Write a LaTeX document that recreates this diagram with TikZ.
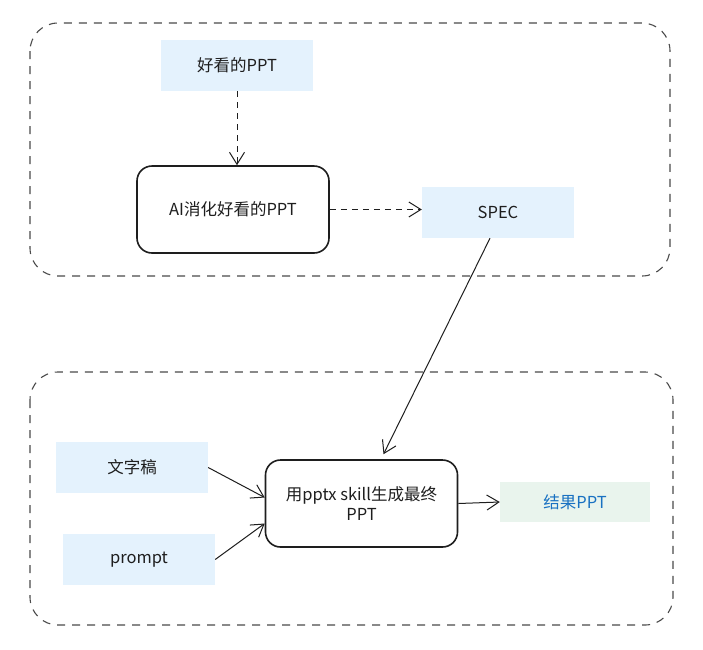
\documentclass[tikz,border=0pt]{standalone}
\usepackage{fontspec}
\setmainfont{Noto Sans CJK SC}
\usetikzlibrary{arrows.meta}
\definecolor{lblue}{RGB}{228,242,253}
\definecolor{lgreen}{RGB}{233,244,237}
\definecolor{tblue}{RGB}{25,113,194}
\definecolor{ink}{RGB}{30,30,30}
\tikzset{
  lbl/.style={font=\fontsize{16.5}{20}\selectfont},
  container/.style={draw=ink!80, line width=1.1pt, dash pattern=on 8pt off 7pt, rounded corners=28pt},
  bluebox/.style={lbl, fill=lblue, draw=none, minimum width=152pt, minimum height=51pt, inner sep=0pt, text=ink},
  greenbox/.style={lbl, fill=lgreen, draw=none, minimum width=150pt, minimum height=40pt, inner sep=0pt, text=tblue},
  procbox/.style={lbl, draw=ink, line width=1.6pt, rounded corners=15pt, minimum width=192pt, minimum height=87pt, inner sep=2pt, align=center, text=ink},
  conn/.style={draw=ink, line width=1pt, -{Straight Barb[length=12pt,width=15pt,line width=1pt]}},
  dconn/.style={conn, dash pattern=on 6pt off 5pt},
}
\begin{document}
\begin{tikzpicture}[x=1pt,y=-1pt]
\useasboundingbox[fill=white] (0,0) rectangle (703,649);
\draw[container] (30,23) rectangle (670,276);
\draw[container] (30,372) rectangle (673,625);
\node[bluebox] (good) at (237,65.5) {好看的PPT};
\node[procbox] (ai) at (233,209.5) {AI消化好看的PPT};
\node[bluebox] (spec) at (498,212.5) {SPEC};
\node[bluebox] (draft) at (132,467.5) {文字稿};
\node[bluebox] (prompt) at (139,559.5) {prompt};
\node[procbox] (gen) at (361.5,503.5) {用pptx skill生成最终\\PPT};
\node[greenbox] (result) at (575,502) {结果PPT};
\draw[dconn] (good.south) -- (ai.north -| good.south);
\draw[dconn] (ai.east) -- (spec.west |- ai.east);
\draw[conn] ([xshift=-8pt]spec.south) -- ([xshift=22pt,yshift=5pt]gen.north);
\draw[conn] (draft.east) -- ([yshift=6pt]gen.west);
\draw[conn] (prompt.east) -- ([yshift=-20pt]gen.west);
\draw[conn] (gen.east) -- (result.west);
\end{tikzpicture}
\end{document}
